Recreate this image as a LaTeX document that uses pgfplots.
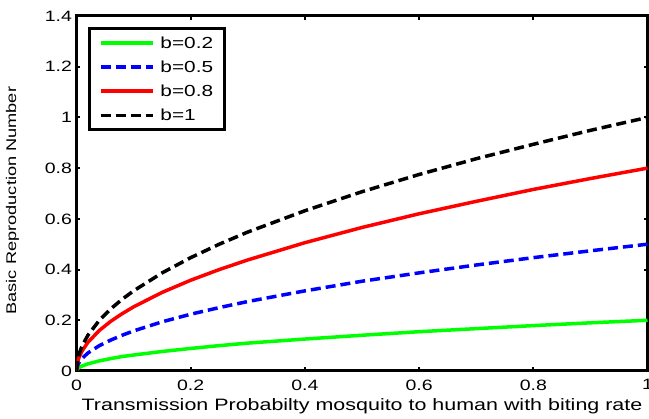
\documentclass[border=0pt]{standalone}
\usepackage{pgfplots}
\pgfplotsset{compat=1.18}
\usepackage{fontspec}
\setmainfont[FakeStretch=1.3]{Liberation Sans}
\usetikzlibrary{calc}

\definecolor{mgreen}{RGB}{0,255,0}
\definecolor{mblue}{RGB}{0,0,255}
\definecolor{mred}{RGB}{255,0,0}

% R0 curves
\pgfplotstableread{
x      bA     bB     bC     bD
0.000  0.000  0.000  0.000  0.000
0.002  0.009  0.022  0.036  0.045
0.005  0.014  0.035  0.057  0.071
0.010  0.020  0.050  0.080  0.100
0.020  0.028  0.071  0.113  0.141
0.040  0.040  0.100  0.160  0.200
0.060  0.049  0.122  0.196  0.245
0.080  0.057  0.141  0.226  0.283
0.100  0.063  0.158  0.253  0.316
0.150  0.077  0.194  0.310  0.387
0.200  0.089  0.224  0.358  0.447
0.250  0.100  0.250  0.400  0.500
0.300  0.110  0.274  0.438  0.548
0.400  0.126  0.316  0.506  0.632
0.500  0.141  0.354  0.566  0.707
0.600  0.155  0.387  0.620  0.775
0.700  0.167  0.418  0.669  0.837
0.800  0.179  0.447  0.716  0.894
0.900  0.190  0.474  0.759  0.949
1.000  0.200  0.500  0.800  1.000
}\rnum

\begin{document}
\begin{tikzpicture}
\begin{axis}[
  name=ax,
  scale only axis,
  width=571pt, height=355pt,
  xmin=0, xmax=1, ymin=0, ymax=1.4,
  xtick={0,0.2,...,1}, ytick={0,0.2,...,1.4},
  tick align=inside,
  major tick length=4pt,
  tick style={black, line width=2pt},
  axis line style={line width=3pt},
  ticklabel style={font=\fontsize{15}{17}\selectfont},
  /pgf/number format/assume math mode=true,
  xticklabel style={yshift=-5pt},
  yticklabel style={xshift=-1pt},
  xlabel={Transmission Probabilty mosquito to human with biting rate},
  ylabel={Basic Reproduction Number},
  xlabel style={font=\fontsize{16.5}{18}\selectfont, at={(axis description cs:0.5,-0.098)}, anchor=center},
  ylabel style={font=\fontsize{14}{16}\selectfont, at={(axis description cs:-0.112,0.48)}, anchor=center},
  legend style={at={(axis description cs:0.021,0.969)}, anchor=north west,
    draw=black, line width=3pt, font=\fontsize{16}{18}\selectfont,
    row sep=7pt, inner xsep=9pt, inner ysep=6pt},
  legend cell align=left,
  legend image code/.code={\draw[#1] (0pt,0pt) -- (52pt,0pt); \path (56pt,0pt);},
  every axis plot/.append style={line width=3.5pt},
]
\addplot[mgreen] table[x=x, y=bA] {\rnum};
\addlegendentry{b=0.2}
\addplot[mblue, dash pattern=on 10pt off 5pt] table[x=x, y=bB] {\rnum};
\addlegendentry{b=0.5}
\addplot[mred] table[x=x, y=bC] {\rnum};
\addlegendentry{b=0.8}
\addplot[black, dash pattern=on 10pt off 5pt] table[x=x, y=bD] {\rnum};
\addlegendentry{b=1}
\end{axis}
\pgfresetboundingbox
\path ($(ax.south west)+(-76.5pt,-48pt)$) rectangle ($(ax.north east)+(1.5pt,16pt)$);
\end{tikzpicture}
\end{document}
